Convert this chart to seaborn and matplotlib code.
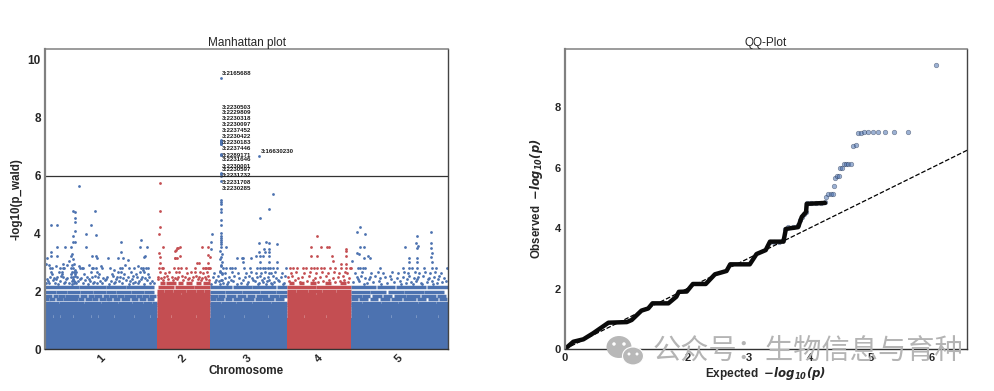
import matplotlib
matplotlib.use("Agg")
import matplotlib.pyplot as plt
from matplotlib.patches import Ellipse
from matplotlib.transforms import IdentityTransform
import pandas as pd
import seaborn as sns

BLUE = "#4c72b0"
RED = "#c44e52"

# chromosome layout, x is cumulative position
chrom_names = ["1", "2", "3", "4", "5"]
chrom_start = [0, 112, 165, 242, 306]
chrom_size = [112, 53, 77, 64, 97]
chrom_color = [BLUE, RED, BLUE, RED, BLUE]
chrom_ticks = [56, 138, 203, 274, 354]
block_top = [1.08, 1.08, 1.08, 1.08, 1.08]

# dense band, read as rows (value, first pos, last pos)
runs_chr1 = [
    (1.15, 0, 7), (1.15, 9, 14), (1.15, 16, 27), (1.15, 29, 45), (1.15, 47, 52), (1.15, 54, 68), (1.15, 70, 88), (1.15, 90, 104), (1.15, 106, 112),
    (1.24, 0, 112), (1.34, 0, 112), (1.44, 0, 112), (1.52, 0, 112),
    (1.6, 0, 4), (1.6, 5, 13), (1.6, 15, 30), (1.6, 31, 38), (1.6, 40, 55), (1.6, 57, 63), (1.6, 64, 72), (1.6, 74, 86), (1.6, 88, 97), (1.6, 99, 106), (1.6, 108, 112),
    (1.72, 0, 3), (1.72, 5, 9), (1.72, 12, 17), (1.72, 19, 32), (1.72, 34, 38), (1.72, 41, 46), (1.72, 48, 52), (1.72, 55, 60), (1.72, 62, 66), (1.72, 69, 74), (1.72, 77, 84), (1.72, 87, 92), (1.72, 95, 100), (1.72, 103, 108),
    (1.84, 1, 6), (1.84, 9, 12), (1.84, 14, 19), (1.84, 21, 33), (1.84, 36, 41), (1.84, 44, 48), (1.84, 50, 56), (1.84, 59, 63), (1.84, 65, 71), (1.84, 73, 78), (1.84, 80, 90), (1.84, 92, 96), (1.84, 98, 103), (1.84, 105, 110),
    (1.97, 0, 10), (1.97, 12, 21), (1.97, 23, 34), (1.97, 36, 47), (1.97, 49, 60), (1.97, 62, 70), (1.97, 72, 85), (1.97, 87, 98), (1.97, 100, 108),
    (2.15, 0, 33), (2.15, 35, 60), (2.15, 62, 80), (2.15, 82, 108),
]
runs_chr2 = [
    (1.15, 112, 125), (1.15, 127, 150), (1.15, 152, 165),
    (1.24, 112, 165), (1.34, 112, 165), (1.44, 112, 165), (1.54, 112, 165), (1.64, 112, 165), (1.74, 112, 165), (1.84, 112, 165),
    (1.92, 113, 135), (1.92, 137, 165),
    (2.02, 113, 118), (2.02, 120, 127), (2.02, 129, 140), (2.02, 142, 150), (2.02, 152, 158), (2.02, 160, 165),
    (2.15, 114, 128), (2.15, 131, 148), (2.15, 150, 165),
    (2.3, 116, 119), (2.3, 122, 130), (2.3, 134, 137), (2.3, 142, 146), (2.3, 152, 155), (2.3, 159, 165),
]
runs_chr3 = [
    (1.15, 165, 178), (1.15, 180, 198), (1.15, 200, 222), (1.15, 224, 242),
    (1.24, 165, 242), (1.34, 165, 242), (1.44, 165, 242), (1.52, 165, 242),
    (1.6, 165, 175), (1.6, 177, 190), (1.6, 192, 206), (1.6, 208, 225), (1.6, 227, 242),
    (1.72, 165, 170), (1.72, 172, 178), (1.72, 181, 186), (1.72, 189, 196), (1.72, 199, 208), (1.72, 211, 216), (1.72, 218, 228), (1.72, 231, 238),
    (1.84, 166, 172), (1.84, 174, 179), (1.84, 182, 190), (1.84, 193, 200), (1.84, 203, 209), (1.84, 212, 222), (1.84, 225, 233), (1.84, 235, 241),
    (1.97, 165, 179), (1.97, 181, 196), (1.97, 198, 214), (1.97, 216, 230), (1.97, 232, 242),
    (2.15, 165, 186), (2.15, 189, 206), (2.15, 208, 230), (2.15, 233, 242),
]
runs_chr4 = [
    (1.15, 242, 258), (1.15, 260, 280), (1.15, 282, 306),
    (1.24, 242, 306), (1.34, 242, 306), (1.44, 242, 306), (1.54, 242, 306), (1.64, 242, 306), (1.74, 242, 306), (1.84, 242, 306),
    (1.92, 243, 270), (1.92, 272, 306),
    (2.02, 243, 250), (2.02, 252, 262), (2.02, 264, 276), (2.02, 278, 290), (2.02, 292, 306),
    (2.15, 242, 270), (2.15, 272, 306),
    (2.3, 245, 248), (2.3, 255, 258), (2.3, 266, 270), (2.3, 281, 285), (2.3, 296, 300),
]
runs_chr5 = [
    (1.15, 306, 322), (1.15, 324, 345), (1.15, 347, 370), (1.15, 372, 392), (1.15, 394, 403),
    (1.24, 306, 403), (1.34, 306, 403), (1.44, 306, 403), (1.52, 306, 403),
    (1.6, 306, 316), (1.6, 318, 335), (1.6, 337, 352), (1.6, 354, 372), (1.6, 374, 390), (1.6, 392, 403),
    (1.72, 306, 312), (1.72, 315, 322), (1.72, 326, 332), (1.72, 336, 344), (1.72, 347, 356), (1.72, 359, 370), (1.72, 373, 380), (1.72, 384, 392), (1.72, 395, 401),
    (1.84, 307, 316), (1.84, 318, 324), (1.84, 328, 336), (1.84, 339, 346), (1.84, 350, 360), (1.84, 362, 374), (1.84, 377, 390), (1.84, 393, 400),
    (1.97, 306, 324), (1.97, 326, 340), (1.97, 344, 358), (1.97, 360, 378), (1.97, 380, 398),
    (2.15, 306, 330), (2.15, 333, 349), (2.15, 352, 380), (2.15, 383, 403),
]

# sparse points above the band
chr1_pos = [34, 28, 30, 50, 30, 30, 6, 12, 46, 30, 41, 28, 51, 28, 30, 76, 96,
            12, 20, 26, 41, 95, 102, 6, 76, 27, 6, 12, 26, 47, 51, 52, 63, 73, 78, 100, 99, 2, 18, 24, 83, 1, 28, 29,
            5, 7, 15, 18, 19, 26, 28, 35, 37, 38, 47, 48, 51, 57, 65, 75, 77, 84, 89, 96, 98, 101, 103,
            6, 14, 17, 27, 29, 31, 46, 52, 73, 76, 86, 95, 99,
            5, 9, 12, 16, 18, 22, 26, 28, 30, 32, 36, 42, 47, 50, 53, 58, 62, 68, 72, 75, 78, 83, 88, 92, 97, 100, 104,
            3, 8, 15, 20, 27, 28, 29, 30, 33, 40, 45, 49, 55, 60, 66, 70, 74, 81, 85, 90, 94, 102, 107,
            1, 4, 10, 13, 19, 24, 27, 29, 31, 38, 43, 48, 52, 57, 64, 69, 77, 84, 88, 93, 99, 105, 109,
            2, 7, 11, 17, 21, 26, 28, 30, 35, 39, 44, 54, 61, 67, 71, 79, 87, 91, 96, 103,
            4, 11, 22, 27, 30, 34, 44, 56, 69, 80, 93, 98]
chr1_val = [5.63, 4.76, 4.74, 4.76, 4.53, 4.38, 4.29, 4.29, 4.28, 4.08, 3.99, 3.92, 3.94, 3.69, 3.69, 3.69, 3.76,
            3.52, 3.52, 3.52, 3.52, 3.52, 3.52, 3.37, 3.37, 3.3, 3.22, 3.22, 3.22, 3.22, 3.22, 3.16, 3.16, 3.16, 3.16, 3.22, 3.2, 3.16, 2.95, 3.05, 3.08, 2.95, 3.1, 2.95,
            2.79, 2.79, 2.79, 2.79, 2.79, 2.79, 2.79, 2.79, 2.79, 2.79, 2.79, 2.79, 2.79, 2.79, 2.79, 2.79, 2.79, 2.79, 2.79, 2.79, 2.79, 2.79, 2.79,
            2.65, 2.65, 2.65, 2.65, 2.65, 2.65, 2.65, 2.65, 2.65, 2.65, 2.65, 2.65, 2.65,
            2.5, 2.47, 2.5, 2.53, 2.5, 2.47, 2.5, 2.5, 2.53, 2.5, 2.47, 2.5, 2.5, 2.53, 2.5, 2.47, 2.5, 2.53, 2.5, 2.5, 2.47, 2.5, 2.53, 2.5, 2.5, 2.47, 2.5,
            2.35, 2.38, 2.35, 2.32, 2.35, 2.38, 2.35, 2.32, 2.35, 2.38, 2.35, 2.32, 2.35, 2.38, 2.35, 2.32, 2.35, 2.38, 2.35, 2.32, 2.35, 2.38, 2.35,
            2.27, 2.29, 2.27, 2.25, 2.29, 2.27, 2.25, 2.27, 2.29, 2.27, 2.25, 2.29, 2.27, 2.27, 2.25, 2.29, 2.27, 2.25, 2.29, 2.27, 2.25, 2.27, 2.29,
            2.42, 2.58, 2.42, 2.58, 2.42, 2.58, 2.42, 2.58, 2.42, 2.58, 2.42, 2.58, 2.42, 2.58, 2.42, 2.58, 2.42, 2.58, 2.42, 2.58,
            2.92, 2.88, 2.9, 2.92, 2.72, 2.88, 2.92, 2.88, 2.72, 2.9, 2.88, 2.72]

chr2_pos = [115, 115, 115, 114, 118, 114, 115, 115, 133, 131, 130, 130, 132, 135, 130, 132, 135, 157, 163, 152, 154, 163, 165, 163,
            114, 117, 118, 129, 133, 136, 141, 150, 158, 160, 161, 163, 164, 165,
            113, 116, 119, 122, 127, 130, 133, 137, 140, 144, 148, 151, 154, 157, 160, 163,
            115, 120, 124, 131, 134, 142, 146, 150, 155, 158, 162,
            113, 118, 123, 128, 132, 138, 143, 147, 153, 156, 161, 164]
chr2_val = [5.73, 4.77, 4.23, 3.99, 3.52, 3.33, 3.2, 2.97, 3.48, 3.43, 3.14, 3.4, 3.48, 3.52, 3.14, 3.14, 3.23, 3.52, 3.52, 2.99, 2.99, 3.25, 3.2, 2.97,
            2.79, 2.79, 2.79, 2.79, 2.79, 2.79, 2.79, 2.79, 2.79, 2.79, 2.79, 2.79, 2.79, 2.79,
            2.5, 2.47, 2.5, 2.53, 2.5, 2.47, 2.5, 2.53, 2.5, 2.47, 2.5, 2.53, 2.5, 2.47, 2.5, 2.53,
            2.65, 2.62, 2.65, 2.68, 2.65, 2.62, 2.65, 2.68, 2.65, 2.62, 2.65,
            2.41, 2.38, 2.41, 2.38, 2.41, 2.38, 2.41, 2.38, 2.41, 2.38, 2.41, 2.38]

chr3_pos = [176, 176, 176, 176, 176, 176, 176, 176, 176, 176, 176, 176, 176, 214, 176, 176, 176, 176,
            176, 176, 176, 176, 176, 176, 176, 176, 176, 176, 176, 176, 176, 176, 175, 177, 176, 175, 177, 176, 176, 175, 177, 176,
            167, 166, 166, 215, 224, 228, 214, 221, 224, 232, 219, 224, 214, 224, 220, 211, 215, 218, 224, 181, 192, 197, 198, 206, 215, 224, 232, 198,
            178, 181, 185, 187, 190, 199, 205, 212, 215, 218, 220, 223, 225, 228, 232, 241,
            168, 173, 180, 184, 189, 194, 200, 204, 207, 212, 215, 219, 223, 228, 231, 236, 240,
            170, 174, 178, 183, 188, 196, 203, 210, 214, 218, 222, 226, 229, 234, 239,
            166, 171, 175, 177, 182, 186, 192, 198, 202, 208, 213, 217, 221, 224, 227, 233, 238,
            169, 175, 177, 180, 187, 193, 201, 206, 211, 216, 220, 224, 226, 230, 237]
chr3_val = [9.37, 7.22, 7.2, 7.18, 7.16, 7.15, 7.14, 7.12, 7.1, 7.08, 6.76, 6.72, 6.7, 6.68, 6.1, 6.05, 6.0, 5.8,
            5.15, 5.1, 5.0, 4.85, 4.75, 4.46, 4.3, 4.0, 3.92, 3.85, 3.78, 3.7, 3.62, 3.52, 3.4, 3.3, 3.2, 3.1, 3.0, 2.92, 2.86, 2.7, 2.6, 2.4,
            3.99, 3.69, 3.46, 4.52, 4.83, 5.37, 3.68, 3.71, 3.68, 3.63, 3.46, 3.46, 3.37, 3.37, 3.37, 3.23, 3.23, 3.23, 3.23, 3.52, 3.16, 3.16, 3.16, 3.16, 3.0, 3.0, 3.0, 3.0,
            2.79, 2.79, 2.79, 2.79, 2.79, 2.79, 2.79, 2.79, 2.79, 2.79, 2.79, 2.79, 2.79, 2.79, 2.79, 2.79,
            2.5, 2.53, 2.47, 2.5, 2.53, 2.47, 2.5, 2.53, 2.47, 2.5, 2.53, 2.47, 2.5, 2.53, 2.47, 2.5, 2.53,
            2.32, 2.35, 2.29, 2.32, 2.35, 2.29, 2.32, 2.35, 2.29, 2.32, 2.35, 2.29, 2.32, 2.35, 2.29,
            2.25, 2.4, 2.25, 2.4, 2.25, 2.4, 2.25, 2.4, 2.25, 2.4, 2.25, 2.4, 2.25, 2.4, 2.25, 2.4, 2.25,
            2.64, 2.66, 2.62, 2.64, 2.66, 2.62, 2.64, 2.66, 2.62, 2.64, 2.66, 2.62, 2.64, 2.66, 2.62]

chr4_pos = [272, 266, 276, 282, 284, 301, 301, 266, 272, 287, 301, 288, 296, 301, 306,
            245, 248, 252, 258, 261, 266, 269, 272, 276, 279, 285, 290, 296, 301, 305,
            243, 247, 253, 257, 264, 270, 275, 281, 288, 293, 298, 304,
            244, 250, 255, 262, 268, 273, 278, 284, 290, 295, 299, 303,
            246, 251, 259, 265, 271, 277, 283, 289, 294, 300, 302]
chr4_val = [3.92, 3.52, 3.52, 3.52, 3.52, 3.46, 3.39, 3.22, 3.22, 3.22, 3.22, 3.03, 2.95, 2.95, 2.79,
            2.79, 2.79, 2.79, 2.79, 2.79, 2.79, 2.79, 2.79, 2.79, 2.79, 2.79, 2.79, 2.79, 2.79, 2.79,
            2.5, 2.53, 2.47, 2.5, 2.53, 2.47, 2.5, 2.53, 2.47, 2.5, 2.53, 2.47,
            2.35, 2.38, 2.32, 2.35, 2.38, 2.32, 2.35, 2.38, 2.32, 2.35, 2.38, 2.32,
            2.62, 2.66, 2.62, 2.66, 2.62, 2.66, 2.62, 2.66, 2.62, 2.66, 2.62]

chr5_pos = [315, 312, 320, 315, 319, 312, 314, 319, 323, 325, 307, 372, 386, 371, 386, 360, 372, 373, 386, 387, 386, 364, 372, 364, 372, 387,
            358, 364, 367, 372, 379, 387, 391, 402, 335, 313, 315, 318, 320,
            312, 316, 320, 325, 330, 335, 340, 345, 352, 358, 364, 369, 373, 378, 384, 389, 394, 399,
            308, 314, 322, 328, 334, 342, 349, 355, 361, 366, 371, 376, 382, 387, 392, 397, 401,
            310, 317, 326, 333, 338, 347, 353, 359, 363, 370, 374, 380, 385, 390, 396,
            313, 319, 324, 336, 346, 356, 362, 368, 372, 377, 383, 388, 393]
chr5_val = [4.23, 4.06, 3.99, 3.52, 3.52, 3.33, 3.27, 3.16, 3.23, 3.16, 3.05, 3.92, 4.06, 3.68, 3.68, 3.52, 3.5, 3.55, 3.5, 3.33, 3.2, 3.16, 3.16, 3.0, 3.0, 3.0,
            2.79, 2.79, 2.79, 2.79, 2.79, 2.79, 2.79, 2.79, 2.79, 2.79, 2.79, 2.79, 2.79,
            2.5, 2.53, 2.47, 2.5, 2.53, 2.47, 2.5, 2.53, 2.47, 2.5, 2.53, 2.47, 2.5, 2.53, 2.47, 2.5, 2.53, 2.47,
            2.32, 2.35, 2.29, 2.32, 2.35, 2.29, 2.32, 2.35, 2.29, 2.32, 2.35, 2.29, 2.32, 2.35, 2.29, 2.32, 2.35,
            2.62, 2.66, 2.62, 2.66, 2.62, 2.66, 2.62, 2.66, 2.62, 2.66, 2.62, 2.66, 2.62, 2.66, 2.62,
            2.42, 2.25, 2.42, 2.25, 2.42, 2.25, 2.42, 2.25, 2.42, 2.25, 2.42, 2.25, 2.42]

# annotated snps
snp_labels = ["3:2165688", "3:2230503", "3:2229809", "3:2230318", "3:2230097", "3:2237452", "3:2230422", "3:2230183",
              "3:2237446", "3:2289171", "3:2231646", "3:2230001", "3:2230597", "3:2231732", "3:2231708", "3:2230285"]
snp_label_y = [9.52, 8.37, 8.18, 7.97, 7.76, 7.55, 7.35, 7.15, 6.95, 6.71, 6.56, 6.33, 6.22, 6.02, 5.77, 5.57]
far_label = "3:16630230"
far_label_y = 6.82
threshold = 6

# qq plot, the staircase that follows the diagonal
qq_line_x = [0, 0.136, 0.3, 0.46, 0.71, 1.01, 1.09, 1.25, 1.36, 1.43, 1.69, 1.82, 1.86, 1.99, 2.09, 2.3, 2.45, 2.64, 2.7, 3.02, 3.13, 3.28, 3.35, 3.57, 3.61, 3.81, 3.87, 3.94, 3.95, 4.25]
qq_line_y = [0, 0.24, 0.32, 0.52, 0.87, 0.89, 0.96, 1.27, 1.34, 1.51, 1.51, 1.73, 1.89, 1.9, 2.15, 2.15, 2.47, 2.58, 2.8, 2.8, 3.14, 3.27, 3.55, 3.55, 3.97, 4.03, 4.37, 4.53, 4.8, 4.83]
# qq plot, single points at the top
qq_exp = [3.35, 3.42, 3.5, 3.57, 3.6, 3.64, 3.72, 3.81, 3.84, 3.87, 3.9, 3.94, 3.96, 4.02, 4.1, 4.18, 4.25,
          4.27, 4.3, 4.34, 4.38, 4.4, 4.42, 4.44, 4.47, 4.5, 4.53, 4.56, 4.59, 4.63, 4.67, 4.71, 4.75, 4.79, 4.84,
          4.89, 4.95, 5.03, 5.11, 5.23, 5.38, 5.6, 6.07]
qq_obs = [3.55, 3.55, 3.55, 3.6, 3.97, 4.03, 4.03, 4.1, 4.25, 4.37, 4.45, 4.53, 4.83, 4.83, 4.83, 4.83, 4.85,
          5.03, 5.14, 5.14, 5.14, 5.4, 5.64, 5.73, 5.73, 5.97, 5.97, 6.12, 6.12, 6.12, 6.12, 6.7, 6.75, 7.14, 7.14,
          7.18, 7.18, 7.18, 7.18, 7.18, 7.18, 7.18, 9.39]
diag_x = [0, 6.58]
diag_y = [0, 6.58]

sns.set_style("white")
plt.rcParams["font.family"] = ["Liberation Sans", "DejaVu Sans"]
plt.rcParams["mathtext.fontset"] = "dejavusans"

W, H = 994, 391
fig = plt.figure(figsize=(W / 100, H / 100), dpi=100, facecolor="white")
ax1 = fig.add_axes([45 / W, 1 - 349 / H, 403 / W, 300 / H])
ax2 = fig.add_axes([565 / W, 1 - 349 / H, 402 / W, 300 / H])

# manhattan
all_runs = [runs_chr1, runs_chr2, runs_chr3, runs_chr4, runs_chr5]
all_pos = [chr1_pos, chr2_pos, chr3_pos, chr4_pos, chr5_pos]
all_val = [chr1_val, chr2_val, chr3_val, chr4_val, chr5_val]
for i in range(5):
    ax1.bar(chrom_start[i], block_top[i], width=chrom_size[i], align="edge", color=chrom_color[i], linewidth=0)
    runs = pd.DataFrame(all_runs[i], columns=["val", "first", "last"])
    # gaps were read too wide, pad every run a bit
    left = (runs["first"] - 0.7).clip(lower=chrom_start[i])
    right = (runs["last"] + 0.7).clip(upper=chrom_start[i] + chrom_size[i])
    ax1.hlines(runs["val"], left, right, color=chrom_color[i], linewidth=2.5, capstyle="butt")
    df = pd.DataFrame({"pos": all_pos[i], "val": all_val[i]})
    sns.scatterplot(data=df, x="pos", y="val", color=chrom_color[i], s=4, linewidth=0, ax=ax1, legend=False)

ax1.axhline(threshold, color="#333333", linewidth=0.9)
ax1.set_xlim(0, 403)
ax1.set_ylim(0, 10.38)
ax1.set_xticks(chrom_ticks)
ax1.set_xticklabels(chrom_names, rotation=45, fontweight="bold", fontsize=8)
ax1.set_yticks([0, 2, 4, 6, 8, 10])
ax1.set_yticklabels(["0", "2", "4", "6", "8", "10"], fontweight="bold", fontsize=8.5)
ax1.tick_params(axis="both", length=0, pad=3, colors="#262626")
ax1.set_title("Manhattan plot", fontsize=8.5, color="#262626", pad=2.5)
ax1.set_xlabel("Chromosome", fontweight="bold", fontsize=8.4, color="#262626", labelpad=0)
ax1.set_ylabel("-log10(p_wald)", fontweight="bold", fontsize=8.4, color="#262626")
ax1.yaxis.set_label_coords(-0.057, 0.5)

for k in range(len(snp_labels)):
    ax1.text(177, snp_label_y[k], snp_labels[k], fontsize=4.4, va="center", ha="left", color="#1a1a1a", fontweight="bold")
ax1.text(216, far_label_y, far_label, fontsize=4.4, va="center", ha="left", color="#1a1a1a", fontweight="bold")

# qq
sns.lineplot(x=diag_x, y=diag_y, color="black", linestyle="--", linewidth=0.9, ax=ax2, estimator=None)
sns.lineplot(x=qq_line_x, y=qq_line_y, color="#0a0a0a", linewidth=3.2, ax=ax2, estimator=None, sort=False, solid_joinstyle="round", solid_capstyle="round")
sns.scatterplot(x=qq_exp, y=qq_obs, color=BLUE, alpha=0.55, s=11, edgecolor="#1c2a44", linewidth=0.4, ax=ax2, legend=False)
ax2.set_xlim(0, 6.57)
ax2.set_ylim(0, 9.92)
ax2.set_xticks(range(7))
ax2.set_xticklabels([str(v) for v in range(7)], fontweight="bold", fontsize=8)
ax2.set_yticks([0, 2, 4, 6, 8])
ax2.set_yticklabels(["0", "2", "4", "6", "8"], fontweight="bold", fontsize=8)
ax2.tick_params(axis="both", length=0, pad=3, colors="#262626")
ax2.set_title("QQ-Plot", fontsize=8.5, color="#262626", pad=2.5)
ax2.set_xlabel(r"Expected  $\mathbfit{-log_{10}(p)}$", fontweight="bold", fontsize=8.5, color="#262626", labelpad=1)
ax2.set_ylabel(r"Observed  $\mathbfit{-log_{10}(p)}$", fontweight="bold", fontsize=8.3, color="#262626")
ax2.yaxis.set_label_coords(-0.05, 0.5)

for ax in [ax1, ax2]:
    ax.spines["left"].set_color("#808080")
    ax.spines["left"].set_linewidth(1.6)
    ax.spines["top"].set_color("#808080")
    ax.spines["top"].set_linewidth(1.1)
    ax.spines["bottom"].set_color("#333333")
    ax.spines["bottom"].set_linewidth(1.0)
    ax.spines["right"].set_color("#444444")
    ax.spines["right"].set_linewidth(1.0)

# wechat watermark
fig.text(653 / W, 1 - 352 / H, "公众号：生物信息与育种", color="#b4b4b4", fontsize=20.3, va="center", ha="left",
         family=["Noto Sans CJK SC", "DejaVu Sans"], zorder=10)
px = IdentityTransform()
icon = [(619, H - 347, 25, 22, "#b8b8b8"), (633, H - 356, 21, 18, "#b8b8b8"),
        (614, H - 344, 3.5, 3.5, "white"), (624, H - 344, 3.5, 3.5, "white"),
        (629, H - 354, 3, 3, "white"), (637, H - 354, 3, 3, "white")]
for cx, cy, w, h, col in icon:
    fig.add_artist(Ellipse((cx, cy), w, h, transform=px, facecolor=col, edgecolor="white" if w == 21 else "none", linewidth=0.8, zorder=10))

fig.savefig("out.png", dpi=100)
